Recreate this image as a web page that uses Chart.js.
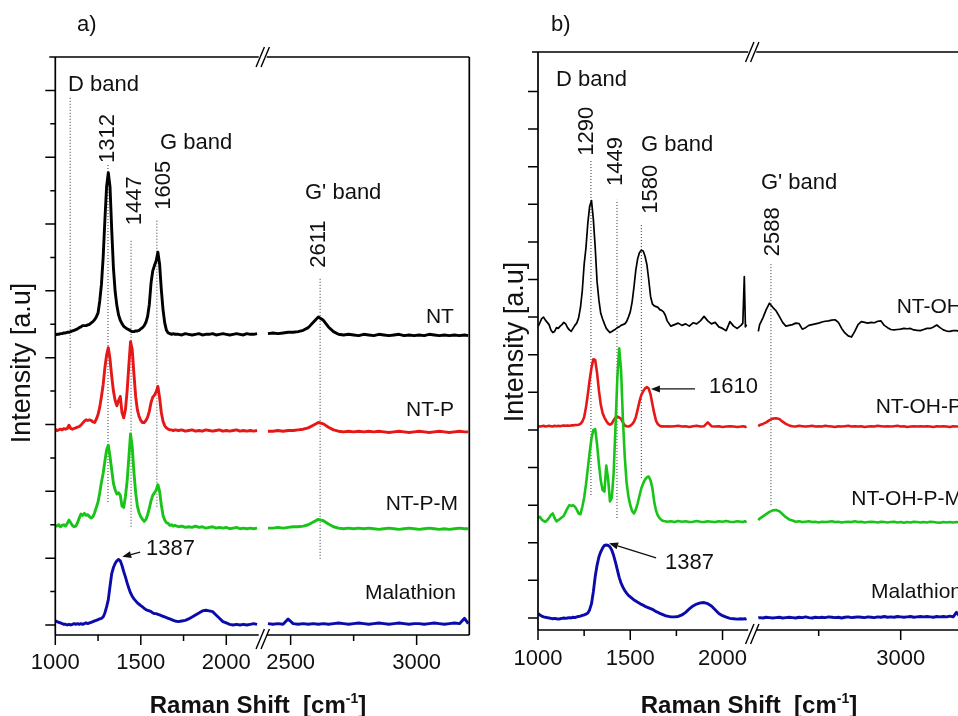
<!DOCTYPE html>
<html>
<head>
<meta charset="utf-8">
<script src="https://cdn.jsdelivr.net/npm/chart.js@4.4.1/dist/chart.umd.min.js"></script>
<style>
  html, body { margin: 0; padding: 0; background: #fff; overflow: hidden; width: 958px; height: 716px; }
  #chartA { position: absolute; left: 0; top: 0; }
  #chartB { position: absolute; left: 479px; top: 0; }
</style>
</head>
<body>
<canvas id="chartA" width="479" height="716"></canvas>
<canvas id="chartB" width="560" height="716"></canvas>
<script>
// ---- panel a) : Raman shift grids (left / right of the axis break) ----
const xA1 = [1000,1010,1020,1030,1040,1050,1060,1070,1080,1090,
  1100,1110,1120,1130,1140,1150,1160,1170,1180,1190,
  1200,1210,1220,1230,1240,1250,1260,1270,1280,1290,
  1300,1310,1320,1330,1340,1350,1360,1370,1380,1390,
  1400,1410,1420,1430,1440,1450,1460,1470,1480,1490,
  1500,1510,1520,1530,1540,1550,1560,1570,1580,1590,
  1600,1610,1620,1630,1640,1650,1660,1670,1680,1690,
  1700,
  1720,1740,1760,1780,1800,1820,1840,1860,1880,1900,1920,1940,
  1960,1980,2000,2020,2040,2060,2080,2100,2120,2140,2160,2180];
const xA2 = [2410,2430,2450,2470,2490,2510,2530,2550,2570,2590,
  2610,2630,2650,2670,2690,2710,2730,2750,2770,2790,
  2810,2830,2850,2870,2890,2910,2930,2950,2970,2990,
  3010,3030,3050,3070,3090,3110,3130,3150,3170,3190,3205];

// intensities (offset, arbitrary units)
const ntA1 = [4.34,4.35,4.35,4.36,4.36,4.37,4.37,4.38,4.38,4.39,
  4.40,4.41,4.42,4.43,4.45,4.46,4.48,4.48,4.48,4.49,
  4.50,4.52,4.54,4.57,4.61,4.67,4.85,5.10,5.51,6.06,
  6.56,6.77,6.56,5.91,5.34,4.99,4.78,4.64,4.56,4.51,
  4.47,4.45,4.43,4.42,4.40,4.39,4.39,4.40,4.40,4.41,
  4.43,4.45,4.48,4.53,4.62,4.80,5.12,5.30,5.38,5.45,
  5.58,5.40,5.02,4.72,4.52,4.41,4.37,4.36,4.35,4.36,
  4.35,
  4.35,4.34,4.36,4.35,4.34,4.35,4.36,4.34,4.35,4.35,4.36,4.34,
  4.35,4.36,4.35,4.34,4.35,4.36,4.35,4.34,4.36,4.35,4.35,4.36];
const ntA2 = [4.36,4.37,4.36,4.37,4.38,4.38,4.39,4.41,4.45,4.53,
  4.61,4.56,4.46,4.39,4.35,4.34,4.35,4.34,4.33,4.35,
  4.34,4.33,4.35,4.34,4.33,4.34,4.35,4.33,4.34,4.33,
  4.34,4.33,4.35,4.34,4.33,4.34,4.33,4.34,4.33,4.34,4.33];

const ntpA1 = [2.93,2.91,2.92,2.93,2.92,2.94,2.93,2.94,2.99,2.94,
  2.93,2.94,2.95,2.96,2.97,2.99,3.02,3.05,3.07,3.06,
  3.07,3.06,3.04,3.03,3.08,3.15,3.26,3.42,3.60,3.85,
  4.04,4.15,3.98,3.72,3.50,3.36,3.28,3.36,3.42,3.18,
  3.10,3.22,3.50,3.88,4.24,4.12,3.75,3.42,3.22,3.12,
  3.06,3.03,3.03,3.06,3.11,3.20,3.33,3.41,3.44,3.49,
  3.57,3.40,3.18,3.05,2.98,2.95,2.93,2.92,2.92,2.91,
  2.92,
  2.91,2.92,2.90,2.91,2.92,2.90,2.91,2.90,2.92,2.91,2.90,2.91,
  2.92,2.90,2.91,2.90,2.91,2.92,2.90,2.91,2.90,2.91,2.90,2.91];
const ntpA2 = [2.90,2.90,2.91,2.90,2.91,2.91,2.92,2.93,2.95,2.99,
  3.03,3.01,2.96,2.92,2.90,2.89,2.90,2.89,2.90,2.89,
  2.90,2.89,2.90,2.89,2.88,2.89,2.90,2.89,2.88,2.89,
  2.90,2.89,2.88,2.89,2.90,2.89,2.88,2.89,2.90,2.89,2.89];

const ntpmA1 = [1.49,1.48,1.50,1.47,1.49,1.50,1.48,1.52,1.57,1.53,
  1.49,1.47,1.48,1.53,1.60,1.66,1.64,1.67,1.64,1.65,
  1.62,1.60,1.62,1.68,1.76,1.84,1.98,2.14,2.27,2.45,
  2.62,2.69,2.52,2.32,2.12,2.02,1.96,1.98,1.94,1.78,
  1.76,1.92,2.15,2.50,2.86,2.66,2.28,1.98,1.78,1.68,
  1.62,1.58,1.55,1.58,1.65,1.75,1.86,1.94,1.98,2.02,
  2.10,2.00,1.80,1.64,1.57,1.53,1.52,1.49,1.50,1.48,
  1.49,
  1.47,1.48,1.46,1.47,1.46,1.48,1.46,1.47,1.45,1.46,1.47,1.45,
  1.46,1.45,1.46,1.44,1.45,1.46,1.44,1.45,1.44,1.45,1.44,1.45];
const ntpmA2 = [1.45,1.45,1.46,1.45,1.46,1.47,1.47,1.48,1.50,1.54,
  1.58,1.56,1.51,1.47,1.45,1.44,1.45,1.44,1.45,1.44,
  1.45,1.44,1.43,1.44,1.45,1.44,1.43,1.44,1.45,1.44,
  1.43,1.44,1.45,1.44,1.43,1.44,1.43,1.44,1.45,1.44,1.44];

const malA1 = [0.06,0.05,0.04,0.03,0.02,0.01,0.01,0.00,0.01,0.00,
  0.01,0.02,0.01,0.02,0.01,0.02,0.01,0.02,0.03,0.02,
  0.03,0.04,0.05,0.06,0.07,0.08,0.09,0.10,0.12,0.18,
  0.27,0.38,0.58,0.77,0.86,0.92,0.96,0.98,0.96,0.89,
  0.80,0.72,0.63,0.55,0.48,0.43,0.39,0.36,0.33,0.31,
  0.29,0.27,0.25,0.23,0.22,0.21,0.20,0.18,0.17,0.17,
  0.16,0.15,0.14,0.13,0.12,0.11,0.10,0.09,0.08,0.07,
  0.06,
  0.05,0.06,0.07,0.09,0.12,0.15,0.18,0.21,0.22,0.21,0.20,0.15,
  0.10,0.05,0.03,0.01,0.00,0.01,0.00,0.01,0.00,0.01,0.02,0.01];
const malA2 = [0.02,0.01,0.02,0.01,0.09,0.02,0.01,0.02,0.01,0.02,
  0.01,0.02,0.01,0.02,0.03,0.02,0.01,0.02,0.03,0.02,
  0.01,0.02,0.03,0.02,0.01,0.02,0.03,0.02,0.01,0.02,
  0.02,0.01,0.02,0.03,0.02,0.01,0.02,0.03,0.02,0.10,0.02];

// ---- panel b) ----
const xB1 = [1000,1010,1020,1030,1040,1050,1060,1070,1080,1090,
  1100,1110,1120,1130,1140,1150,1160,1170,1180,1190,
  1200,1210,1220,1230,1240,1250,1260,1270,1280,1290,
  1300,1310,1320,1330,1340,1350,1360,1370,1380,1390,
  1400,1410,1420,1430,1440,1450,1460,1470,1480,1490,
  1500,1510,1520,1530,1540,1550,1560,1570,1580,1590,
  1600,1610,1620,1630,1640,1650,1660,1670,1680,1690,
  1700,
  1720,1740,1760,1780,1800,1820,1840,1860,1880,1900,
  1920,1940,1960,1980,2000,2020,2040,2060,2080,2100,
  2110,2118,2124,2130];
const xB2 = [2132,
  2140,2160,2180,2200,2220,2240,2260,2280,2300,2320,
  2340,2360,2380,2400,2420,2440,2460,2480,2500,2520,
  2540,2560,2580,2600,2620,2640,2660,2680,2700,2720,
  2740,2760,2780,2800,2820,2840,2860,2880,2900,2920,
  2940,2960,2980,3000,3020,3040,3060,3080,3100,3120,
  3140,3160,3180,3200,3220,3240,3260,3280,3300,3320,
  3340,3360,3380,3400,3420,3440,3460,3480,3500];

const ntohB1 = [7.75,7.85,7.96,8.00,7.92,7.86,7.80,7.66,7.59,7.62,
  7.72,7.70,7.76,7.80,7.86,7.82,7.72,7.66,7.62,7.70,
  7.78,7.84,7.98,8.25,8.70,9.40,9.85,10.50,10.95,11.10,
  10.60,9.85,8.95,8.45,8.10,7.95,7.82,7.70,7.64,7.59,
  7.62,7.65,7.68,7.72,7.74,7.78,7.80,7.82,7.88,8.00,
  8.14,8.40,8.80,9.25,9.55,9.72,9.78,9.76,9.62,9.40,
  9.00,8.55,8.35,8.30,8.28,8.26,8.20,8.18,8.14,8.05,
  7.90,
  7.76,7.80,7.84,7.78,7.82,7.76,7.85,7.82,7.90,8.02,
  7.90,7.82,7.86,7.74,7.70,7.64,7.88,7.76,7.70,7.78,
  7.84,9.08,7.74,7.80];
const ntohB2 = [7.62,
  7.80,7.98,8.20,8.37,8.26,8.17,8.02,7.86,7.76,7.78,
  7.80,7.84,7.83,7.68,7.72,7.78,7.80,7.82,7.84,7.87,
  7.89,7.90,7.92,7.93,7.86,7.70,7.58,7.50,7.47,7.62,
  7.80,7.88,7.86,7.84,7.86,7.85,7.89,7.90,7.78,7.72,
  7.67,7.66,7.67,7.68,7.70,7.69,7.70,7.66,7.65,7.64,
  7.67,7.70,7.70,7.74,7.79,7.72,7.66,7.63,7.62,7.64,
  7.64,7.62,7.66,7.63,7.65,7.62,7.64,7.63,7.64];

const ntohpB1 = [5.10,5.09,5.10,5.11,5.09,5.10,5.11,5.10,5.09,5.11,
  5.10,5.11,5.10,5.11,5.12,5.11,5.12,5.11,5.12,5.12,
  5.13,5.13,5.14,5.16,5.22,5.34,5.60,5.95,6.33,6.66,
  6.88,6.86,6.52,6.05,5.68,5.45,5.33,5.24,5.17,5.14,
  5.17,5.26,5.33,5.35,5.33,5.30,5.20,5.12,5.10,5.09,
  5.11,5.15,5.22,5.34,5.54,5.76,5.93,6.03,6.10,6.14,
  6.10,5.94,5.68,5.44,5.24,5.15,5.11,5.09,5.10,5.09,
  5.10,
  5.09,5.10,5.11,5.09,5.10,5.08,5.10,5.11,5.09,5.10,
  5.20,5.10,5.09,5.10,5.08,5.09,5.10,5.09,5.08,5.09,
  5.10,5.09,5.08,5.09];
const ntohpB2 = [5.10,
  5.13,5.16,5.20,5.26,5.30,5.31,5.29,5.22,5.16,5.12,
  5.10,5.09,5.11,5.10,5.09,5.10,5.11,5.09,5.10,5.09,
  5.11,5.10,5.09,5.08,5.10,5.09,5.10,5.11,5.09,5.10,
  5.09,5.10,5.08,5.09,5.10,5.09,5.11,5.10,5.09,5.10,
  5.09,5.10,5.11,5.09,5.10,5.08,5.09,5.10,5.09,5.10,
  5.09,5.10,5.09,5.08,5.10,5.09,5.10,5.09,5.08,5.10,
  5.09,5.10,5.09,5.08,5.10,5.09,5.10,5.09,5.10];

const ntohpmB1 = [2.66,2.69,2.62,2.58,2.56,2.60,2.66,2.74,2.78,2.66,
  2.57,2.60,2.64,2.68,2.72,2.82,2.92,3.00,2.98,3.00,
  2.96,2.88,2.78,2.76,2.95,3.20,3.55,3.98,4.40,4.78,
  5.00,5.02,4.62,4.10,3.66,3.40,3.36,4.05,3.70,3.10,
  3.20,3.85,5.10,6.40,7.17,6.60,5.30,4.30,3.60,3.23,
  3.00,2.84,2.78,2.88,3.05,3.25,3.45,3.58,3.68,3.74,
  3.76,3.66,3.45,3.08,2.85,2.72,2.65,2.60,2.58,2.57,
  2.56,
  2.57,2.55,2.58,2.56,2.57,2.55,2.56,2.58,2.56,2.55,
  2.57,2.56,2.55,2.57,2.56,2.58,2.56,2.55,2.57,2.56,
  2.55,2.57,2.56,2.58];
const ntohpmB2 = [2.60,
  2.64,2.70,2.76,2.82,2.86,2.87,2.84,2.76,2.68,2.62,
  2.59,2.56,2.57,2.55,2.56,2.57,2.55,2.56,2.54,2.56,
  2.55,2.56,2.57,2.55,2.56,2.54,2.55,2.56,2.55,2.57,
  2.55,2.56,2.54,2.55,2.56,2.55,2.54,2.56,2.55,2.54,
  2.55,2.56,2.54,2.55,2.53,2.55,2.54,2.56,2.55,2.54,
  2.55,2.54,2.56,2.55,2.54,2.53,2.55,2.54,2.55,2.54,
  2.55,2.54,2.53,2.55,2.54,2.55,2.53,2.54,2.55];

const malB1 = [0.12,0.08,0.05,0.03,0.02,0.01,0.00,-0.01,-0.02,-0.01,
  -0.02,-0.03,-0.02,-0.01,0.00,-0.01,0.00,0.01,0.00,0.02,
  0.01,0.03,0.04,0.05,0.07,0.08,0.10,0.13,0.22,0.38,
  0.70,1.10,1.40,1.62,1.76,1.86,1.93,1.94,1.93,1.89,
  1.80,1.66,1.48,1.28,1.08,0.93,0.82,0.73,0.66,0.60,
  0.56,0.52,0.48,0.45,0.42,0.39,0.36,0.34,0.31,0.29,
  0.27,0.25,0.23,0.20,0.17,0.15,0.12,0.10,0.08,0.06,
  0.05,
  0.03,0.03,0.04,0.08,0.15,0.24,0.32,0.37,0.40,0.41,
  0.38,0.32,0.22,0.12,0.06,0.02,-0.01,-0.02,-0.03,-0.02,
  -0.03,-0.02,-0.03,-0.02];
const malB2 = [0.00,
  0.01,0.00,0.02,0.01,0.00,0.01,0.02,0.00,0.01,0.02,
  0.01,0.00,0.02,0.01,0.03,0.01,0.00,0.02,0.01,0.02,
  0.01,0.03,0.02,0.01,0.02,0.00,0.02,0.03,0.01,0.02,
  0.03,0.02,0.01,0.03,0.02,0.01,0.03,0.02,0.04,0.02,
  0.03,0.02,0.04,0.03,0.02,0.03,0.04,0.02,0.03,0.04,
  0.03,0.04,0.03,0.02,0.04,0.03,0.04,0.03,0.05,0.03,
  0.15,0.04,0.03,0.05,0.04,0.03,0.04,0.05,0.04];

// ---- axis ticks ----
const xLabelsA = [1000, 1500, 2000, 2500, 3000];
const xMinorA = [1250, 1750, 2750];
const xLabelsB = [1000, 1500, 2000, 3000];
const xMinorB = [1250, 1750, 2500];
const yMajorA = [0, 1, 2, 3, 4, 5, 6, 7, 8];
const yMinorA = [0.5, 1.5, 2.5, 3.5, 4.5, 5.5, 6.5, 7.5];
const yMajorB = [0, 1, 2, 3, 4, 5, 6, 7, 8, 9, 10, 11, 12, 13, 14];

const FONT = '"Liberation Sans", Arial, sans-serif';
const RED = '#e61717', GREEN = '#19c419', BLUE = '#0b0bab';

// linear scale with a break: left part and right part get their own share of the width
class BrokenScale extends Chart.LinearScale {
  toFrac(v) {
    const o = this.options;
    if (v <= o.leftMax) return (v - this.min) / (o.leftMax - this.min) * o.leftEnd;
    return o.rightStart + (v - o.rightMin) / (this.max - o.rightMin) * (1 - o.rightStart);
  }
  getPixelForValue(v) {
    if (v === null || v === undefined || isNaN(v)) return NaN;
    return this.getPixelForDecimal(this.toFrac(v));
  }
  getValueForPixel(p) {
    const o = this.options, f = this.getDecimalForPixel(p);
    if (f <= o.leftEnd) return this.min + f / o.leftEnd * (o.leftMax - this.min);
    return o.rightMin + (f - o.rightStart) / (1 - o.rightStart) * (this.max - o.rightMin);
  }
}
BrokenScale.id = 'broken';
BrokenScale.defaults = {};
Chart.register(BrokenScale);

function spectrum(xs1, ys1, xs2, ys2, gapX) {
  const out = xs1.map((x, i) => ({ x: x, y: ys1[i] }));
  out.push({ x: gapX, y: null });
  xs2.forEach((x, i) => out.push({ x: x, y: ys2[i] }));
  return out;
}

function line(color, data, width, order) {
  return { data: data, borderColor: color, borderWidth: width, pointRadius: 0,
    tension: 0, borderJoinStyle: 'round', spanGaps: false, order: order };
}

function dotted(x, y1, y2) {
  return { data: [{ x: x, y: y1 }, { x: x, y: y2 }], borderColor: '#333', borderWidth: 1,
    borderDash: [1, 2], pointRadius: 0, order: 10 };
}

function text(ctx, s, x, y, o) {
  ctx.save();
  ctx.font = (o.bold ? 'bold ' : '') + (o.size || 22) + 'px ' + FONT;
  ctx.fillStyle = '#111';
  ctx.textAlign = o.align || 'left';
  ctx.textBaseline = o.base || 'middle';
  ctx.translate(x, y);
  if (o.rot) ctx.rotate(-Math.PI / 2);
  ctx.fillText(s, 0, 0);
  ctx.restore();
}

function arrow(ctx, x1, y1, x2, y2) {
  const ang = Math.atan2(y2 - y1, x2 - x1), L = 9, W = 3.5;
  ctx.save();
  ctx.strokeStyle = '#111'; ctx.fillStyle = '#111'; ctx.lineWidth = 1.3;
  ctx.beginPath();
  ctx.moveTo(x1, y1);
  ctx.lineTo(x2 - Math.cos(ang) * L, y2 - Math.sin(ang) * L);
  ctx.stroke();
  ctx.beginPath();
  ctx.moveTo(x2, y2);
  ctx.lineTo(x2 - Math.cos(ang) * L - Math.sin(ang) * W, y2 - Math.sin(ang) * L + Math.cos(ang) * W);
  ctx.lineTo(x2 - Math.cos(ang) * L + Math.sin(ang) * W, y2 - Math.sin(ang) * L - Math.cos(ang) * W);
  ctx.closePath();
  ctx.fill();
  ctx.restore();
}

// frame, broken axis marks, ticks, labels and notes
function decor(cfg) {
  return {
    id: 'decor',
    afterDatasetsDraw(chart) {
      const ctx = chart.ctx, a = chart.chartArea;
      const xs = chart.scales.x, ys = chart.scales.y;
      const bx = a.left + (xs.options.leftEnd + xs.options.rightStart) / 2 * (a.right - a.left);
      const g = 4;
      ctx.save();
      ctx.strokeStyle = '#000';
      ctx.lineWidth = 1.7;
      ctx.beginPath();
      ctx.moveTo(a.left, a.top); ctx.lineTo(a.left, a.bottom);
      ctx.moveTo(a.right, a.top); ctx.lineTo(a.right, a.bottom);
      ctx.moveTo(a.left - 6, a.top); ctx.lineTo(bx - g, a.top);
      ctx.moveTo(bx + g, a.top); ctx.lineTo(a.right, a.top);
      ctx.moveTo(a.left, a.bottom); ctx.lineTo(bx - g, a.bottom);
      ctx.moveTo(bx + g, a.bottom); ctx.lineTo(a.right, a.bottom);
      ctx.stroke();
      ctx.lineWidth = 1.4;
      ctx.beginPath();
      [a.top, a.bottom + 4].forEach(yb => {
        [-2.5, 2.5].forEach(dx => {
          ctx.moveTo(bx + dx - 4.2, yb + 10);
          ctx.lineTo(bx + dx + 4.2, yb - 10);
        });
      });
      ctx.stroke();

      // ticks
      ctx.lineWidth = 1.5;
      ctx.beginPath();
      cfg.xMajor.forEach(v => { const p = xs.getPixelForValue(v); ctx.moveTo(p, a.bottom); ctx.lineTo(p, a.bottom + 10); });
      cfg.xMinor.forEach(v => { const p = xs.getPixelForValue(v); ctx.moveTo(p, a.bottom); ctx.lineTo(p, a.bottom + 6); });
      cfg.yMajor.forEach(v => { const p = ys.getPixelForValue(v); ctx.moveTo(a.left - 10, p); ctx.lineTo(a.left, p); });
      cfg.yMinor.forEach(v => { const p = ys.getPixelForValue(v); ctx.moveTo(a.left - 5, p); ctx.lineTo(a.left, p); });
      ctx.stroke();
      ctx.restore();

      cfg.xMajor.forEach(v => text(ctx, String(v), xs.getPixelForValue(v), a.bottom + cfg.labelGap, { align: 'center' }));

      // axis titles
      text(ctx, 'Intensity [a.u]', cfg.yTitle[0], cfg.yTitle[1], { size: 27, align: 'center', rot: true });
      ctx.save();
      const big = 'bold 24px ' + FONT, small = 'bold 14px ' + FONT;
      ctx.font = big;
      const p1 = 'Raman Shift  [cm', p3 = ']';
      const w1 = ctx.measureText(p1).width, w3 = ctx.measureText(p3).width;
      ctx.font = small;
      const w2 = ctx.measureText('-1').width;
      let x0 = cfg.xTitle[0] - (w1 + w2 + w3) / 2;
      const yb = cfg.xTitle[1];
      ctx.fillStyle = '#111';
      ctx.textBaseline = 'alphabetic';
      ctx.textAlign = 'left';
      ctx.font = big; ctx.fillText(p1, x0, yb);
      ctx.font = small; ctx.fillText('-1', x0 + w1, yb - 10);
      ctx.font = big; ctx.fillText(p3, x0 + w1 + w2, yb);
      ctx.restore();

      text(ctx, cfg.panel, cfg.panelPos[0], cfg.panelPos[1], { size: 22 });

      cfg.notes.forEach(n => text(ctx, n.t, xs.getPixelForValue(n.x), ys.getPixelForValue(n.y),
        { align: n.align, rot: n.rot, size: n.size }));
      cfg.arrows.forEach(r => arrow(ctx, xs.getPixelForValue(r[0]), ys.getPixelForValue(r[1]),
        xs.getPixelForValue(r[2]), ys.getPixelForValue(r[3])));
    }
  };
}

function makeChart(id, datasets, xOpts, yMin, yMax, padding, cfg) {
  return new Chart(document.getElementById(id), {
    type: 'line',
    data: { datasets: datasets },
    options: {
      responsive: false,
      animation: false,
      events: [],
      layout: { padding: padding },
      plugins: { legend: { display: false }, tooltip: { enabled: false } },
      scales: {
        x: Object.assign({ type: 'broken', display: false }, xOpts),
        y: { type: 'linear', display: false, min: yMin, max: yMax }
      }
    },
    plugins: [decor(cfg)]
  });
}

// panel a)
makeChart('chartA', [
  line('#000', spectrum(xA1, ntA1, xA2, ntA2, 2190), 2.9, 3),
  line(RED, spectrum(xA1, ntpA1, xA2, ntpA2, 2190), 2.9, 2),
  line(GREEN, spectrum(xA1, ntpmA1, xA2, ntpmA2, 2190), 2.9, 1),
  line(BLUE, spectrum(xA1, malA1, xA2, malA2, 2190), 2.9, 0),
  dotted(1087, 3.25, 7.92),
  dotted(1308, 1.84, 6.9),
  dotted(1443, 1.47, 5.76),
  dotted(1594, 1.77, 6.06),
  dotted(2617, 0.99, 5.21)
], { min: 1000, max: 3209, leftMax: 2190, rightMin: 2405, leftEnd: 0.4915, rightStart: 0.5106 },
  -0.15, 8.5, { left: 55.3, right: 9.7, top: 57, bottom: 81 }, {
  xMajor: xLabelsA, xMinor: xMinorA, yMajor: yMajorA, yMinor: yMinorA,
  labelGap: 28, yTitle: [23, 363], xTitle: [258, 713], panel: 'a)', panelPos: [77, 25],
  notes: [
    { t: 'D band', x: 1074, y: 8.08 },
    { t: '1312', x: 1308, y: 7.28, rot: true, align: 'center' },
    { t: 'G band', x: 1612, y: 7.22 },
    { t: '1447', x: 1466, y: 6.35, rot: true, align: 'center' },
    { t: '1605', x: 1637, y: 6.58, rot: true, align: 'center' },
    { t: "G' band", x: 2557, y: 6.47 },
    { t: '2611', x: 2613, y: 5.70, rot: true, align: 'center' },
    { t: 'NT', x: 3148, y: 4.61, align: 'right', size: 21 },
    { t: 'NT-P', x: 3148, y: 3.22, align: 'right', size: 21 },
    { t: 'NT-P-M', x: 3164, y: 1.81, align: 'right', size: 21 },
    { t: 'Malathion', x: 3156, y: 0.48, align: 'right', size: 21 },
    { t: '1387', x: 1531, y: 1.14 }
  ],
  arrows: [[1496, 1.09, 1391, 1.02]]
});

// panel b)
makeChart('chartB', [
  line('#000', spectrum(xB1, ntohB1, xB2, ntohB2, 2131), 1.7, 3),
  line(RED, spectrum(xB1, ntohpB1, xB2, ntohpB2, 2131), 2.6, 2),
  line(GREEN, spectrum(xB1, ntohpmB1, xB2, ntohpmB2, 2131), 2.6, 1),
  line(BLUE, spectrum(xB1, malB1, xB2, malB2, 2131), 2.9, 0),
  dotted(1287, 3.27, 12.18),
  dotted(1428, 2.66, 11.12),
  dotted(1560, 3.72, 10.45),
  dotted(2209, 3.0, 9.44)
], { min: 1000, max: 3500, leftMax: 2130, rightMin: 2130, leftEnd: 0.4689, rightStart: 0.4947 },
  -0.32, 15.05, { left: 59, right: 56.3, top: 52, bottom: 86 }, {
  xMajor: xLabelsB, xMinor: xMinorB, yMajor: yMajorB, yMinor: [],
  labelGap: 29, yTitle: [37, 342], xTitle: [270, 713], panel: 'b)', panelPos: [72, 25],
  notes: [
    { t: 'D band', x: 1098, y: 14.31 },
    { t: '1290', x: 1266, y: 12.94, rot: true, align: 'center' },
    { t: '1449', x: 1423, y: 12.14, rot: true, align: 'center' },
    { t: 'G band', x: 1558, y: 12.58 },
    { t: '1580', x: 1612, y: 11.40, rot: true, align: 'center' },
    { t: "G' band", x: 2148, y: 11.57 },
    { t: '2588', x: 2221, y: 10.27, rot: true, align: 'center' },
    { t: 'NT-OH', x: 3374, y: 8.27, align: 'right', size: 21 },
    { t: 'NT-OH-P', x: 3374, y: 5.61, align: 'right', size: 21 },
    { t: 'NT-OH-P-M', x: 3374, y: 3.16, align: 'right', size: 21 },
    { t: 'Malathion', x: 3374, y: 0.69, align: 'right', size: 21 },
    { t: '1610', x: 1927, y: 6.14 },
    { t: '1387', x: 1688, y: 1.46 }
  ],
  arrows: [[1851, 6.09, 1612, 6.09], [1640, 1.60, 1385, 1.99]]
});
</script>
</body>
</html>
